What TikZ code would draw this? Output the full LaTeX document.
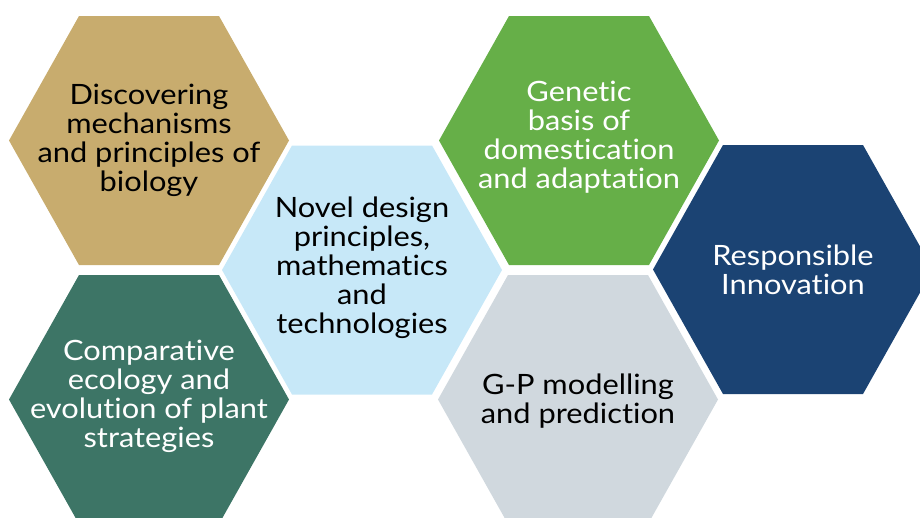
\documentclass[tikz,border=0pt]{standalone}
\usepackage{fontspec}
\setmainfont{Lato}[FakeStretch=1.1,Ligatures=NoCommon]

\definecolor{hexsand}{RGB}{200,172,110}
\definecolor{hexsky}{RGB}{199,232,248}
\definecolor{hexleaf}{RGB}{102,175,72}
\definecolor{hexnavy}{RGB}{27,67,115}
\definecolor{hexteal}{RGB}{61,117,102}
\definecolor{hexmist}{RGB}{208,216,222}

% hexagon with pointed sides, centre (#1,#2), filled with #3
\newcommand{\hexcell}[3]{\fill[#3] (#1,#2) ++(-140,0) -- ++(70,-124.5) -- ++(140,0)
  -- ++(70,124.5) -- ++(-70,124.5) -- ++(-140,0) -- cycle;}

\begin{document}
\begin{tikzpicture}[x=1pt,y=-1pt,
  celltext/.style={align=center,inner sep=0pt,font=\fontsize{28}{29}\selectfont}]
  \useasboundingbox (0,0) rectangle (920,517);
  \clip (0,0) rectangle (920,517);

  \hexcell{149}{140.5}{hexsand} \hexcell{149}{399.5}{hexteal}
  \hexcell{362}{270}{hexsky}
  \hexcell{579}{140.5}{hexleaf} \hexcell{578}{399.5}{hexmist}
  \hexcell{793}{269.5}{hexnavy}

  \node[celltext] (bio) at (149,140.5) {Discovering\\mechanisms\\and principles of\\biology};
  \node[celltext,white] (eco) at (149,396) {Comparative\\ecology and\\evolution of plant\\strategies};
  \node[celltext] (design) at (362,268) {Novel design\\principles,\\mathematics\\and\\technologies};
  \node[celltext,white] (genetic) at (579,137) {Genetic\\basis of\\domestication\\and adaptation};
  \node[celltext] (gp) at (578,401) {G-P modelling\\and prediction};
  \node[celltext,white] (resp) at (793,269.5) {Responsible\\Innovation};
\end{tikzpicture}
\end{document}
